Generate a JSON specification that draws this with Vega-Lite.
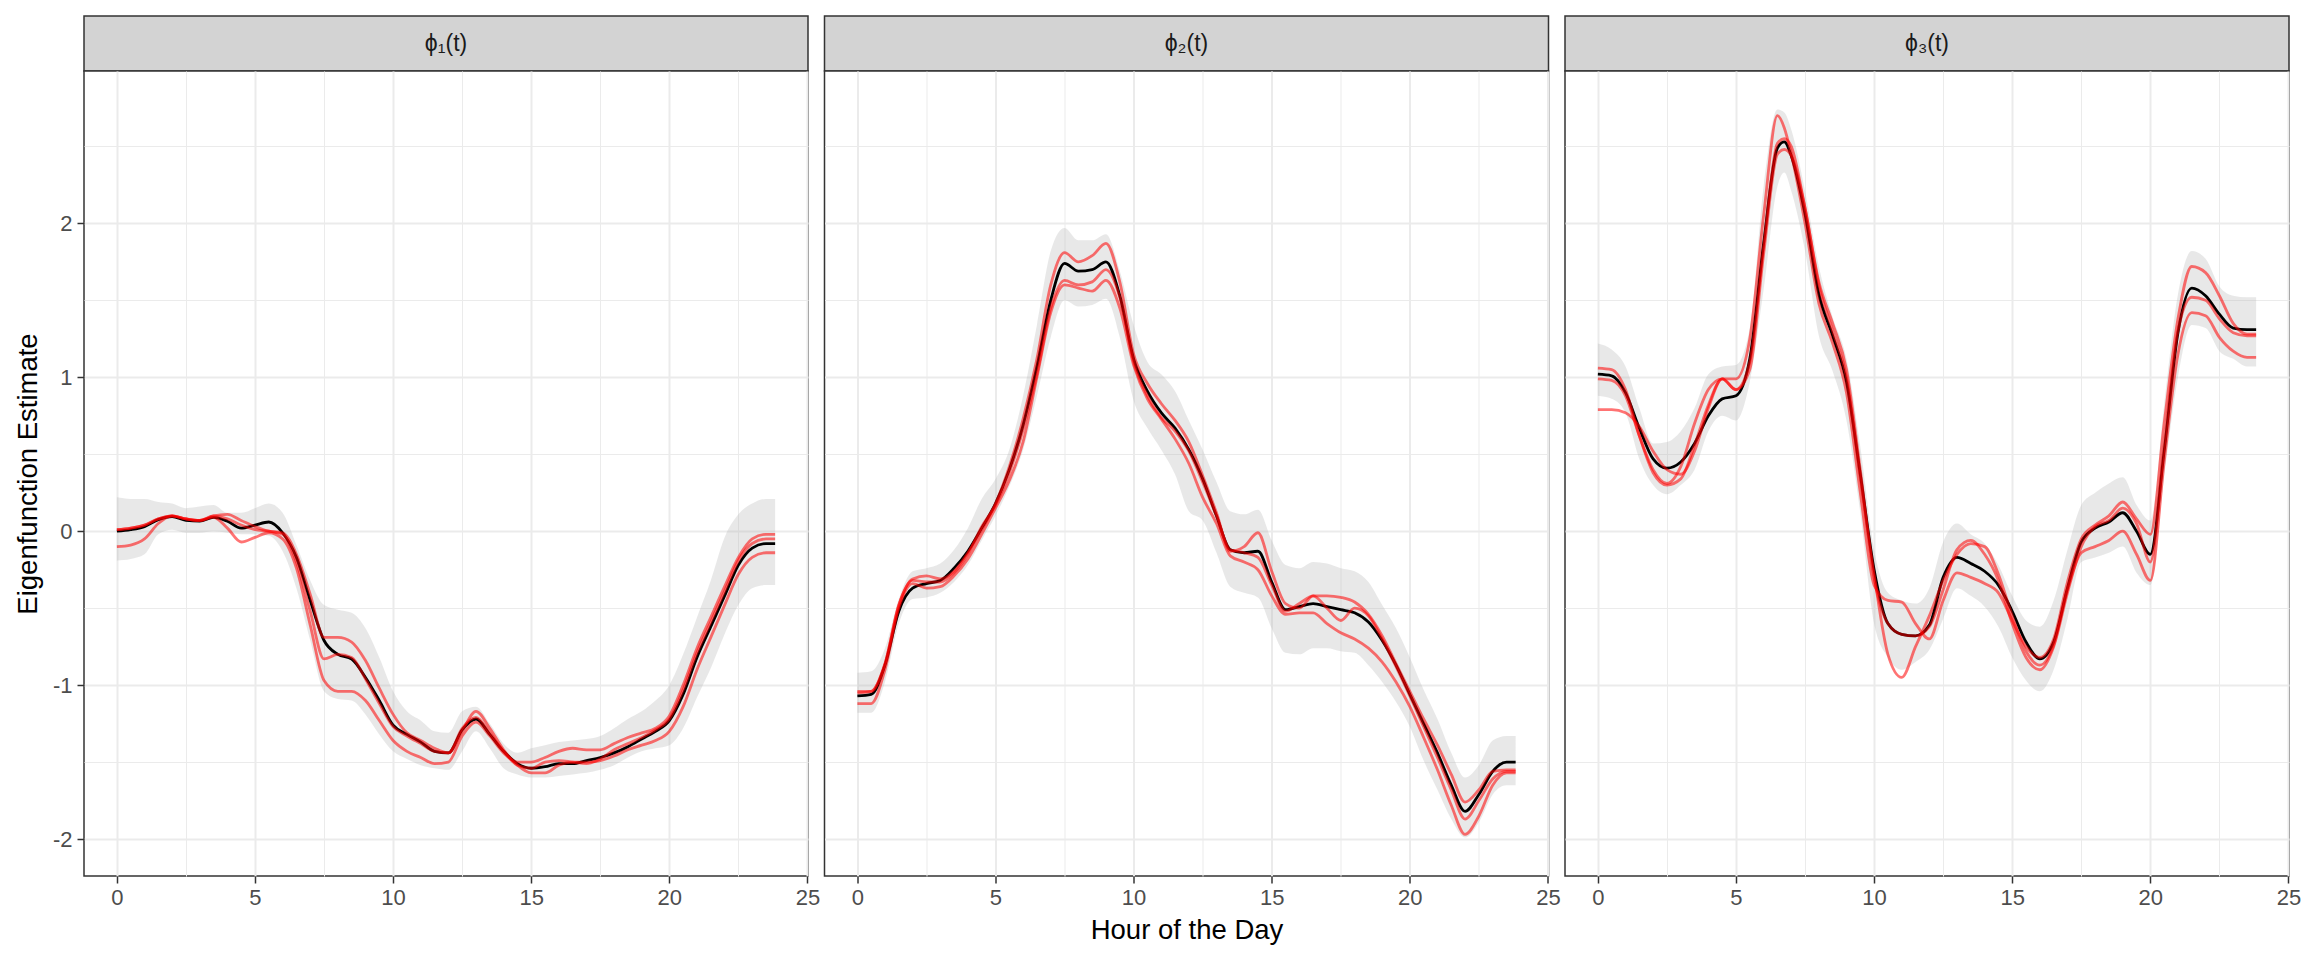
{
 "$schema": "https://vega.github.io/schema/vega-lite/v6.json",
 "padding": {"left": 13, "top": 15, "right": 5, "bottom": 5},
 "config": {"font": "Liberation Sans", "view": {"stroke": null}},
 "datasets": {
  "eig": [
   {"panel":1,"t":0,"est":0.00,"lo":-0.19,"hi":0.22,"r1":-0.10,"r2":0.01,"r3":0.01},
   {"panel":1,"t":0.5,"est":0.01,"lo":-0.18,"hi":0.21,"r1":-0.09,"r2":0.02,"r3":0.02},
   {"panel":1,"t":1,"est":0.03,"lo":-0.15,"hi":0.21,"r1":-0.05,"r2":0.04,"r3":0.04},
   {"panel":1,"t":1.5,"est":0.075,"lo":-0.02,"hi":0.19,"r1":0.05,"r2":0.08,"r3":0.08},
   {"panel":1,"t":2,"est":0.095,"lo":0.01,"hi":0.18,"r1":0.10,"r2":0.10,"r3":0.10},
   {"panel":1,"t":2.5,"est":0.07,"lo":-0.01,"hi":0.15,"r1":0.08,"r2":0.08,"r3":0.08},
   {"panel":1,"t":3,"est":0.065,"lo":-0.01,"hi":0.16,"r1":0.07,"r2":0.07,"r3":0.07},
   {"panel":1,"t":3.5,"est":0.09,"lo":0.0,"hi":0.17,"r1":0.09,"r2":0.10,"r3":0.10},
   {"panel":1,"t":4,"est":0.065,"lo":-0.01,"hi":0.12,"r1":0.02,"r2":0.11,"r3":0.08},
   {"panel":1,"t":4.5,"est":0.02,"lo":-0.02,"hi":0.12,"r1":-0.07,"r2":0.07,"r3":0.04},
   {"panel":1,"t":5,"est":0.04,"lo":-0.02,"hi":0.15,"r1":-0.04,"r2":0.03,"r3":0.01},
   {"panel":1,"t":5.5,"est":0.06,"lo":-0.03,"hi":0.18,"r1":-0.01,"r2":0.00,"r3":0.00},
   {"panel":1,"t":6,"est":-0.01,"lo":-0.13,"hi":0.12,"r1":-0.05,"r2":-0.01,"r3":-0.02},
   {"panel":1,"t":6.5,"est":-0.17,"lo":-0.37,"hi":-0.09,"r1":-0.24,"r2":-0.15,"r3":-0.20},
   {"panel":1,"t":7,"est":-0.45,"lo":-0.71,"hi":-0.32,"r1":-0.61,"r2":-0.41,"r3":-0.52},
   {"panel":1,"t":7.5,"est":-0.71,"lo":-1.04,"hi":-0.48,"r1":-0.97,"r2":-0.69,"r3":-0.83},
   {"panel":1,"t":8,"est":-0.80,"lo":-1.09,"hi":-0.51,"r1":-1.04,"r2":-0.69,"r3":-0.80},
   {"panel":1,"t":8.5,"est":-0.83,"lo":-1.10,"hi":-0.53,"r1":-1.04,"r2":-0.72,"r3":-0.82},
   {"panel":1,"t":9,"est":-0.95,"lo":-1.19,"hi":-0.63,"r1":-1.10,"r2":-0.84,"r3":-0.96},
   {"panel":1,"t":9.5,"est":-1.10,"lo":-1.32,"hi":-0.82,"r1":-1.23,"r2":-1.02,"r3":-1.12},
   {"panel":1,"t":10,"est":-1.26,"lo":-1.43,"hi":-1.04,"r1":-1.36,"r2":-1.19,"r3":-1.27},
   {"panel":1,"t":10.5,"est":-1.32,"lo":-1.48,"hi":-1.17,"r1":-1.43,"r2":-1.31,"r3":-1.33},
   {"panel":1,"t":11,"est":-1.37,"lo":-1.52,"hi":-1.23,"r1":-1.47,"r2":-1.36,"r3":-1.38},
   {"panel":1,"t":11.5,"est":-1.43,"lo":-1.54,"hi":-1.30,"r1":-1.51,"r2":-1.41,"r3":-1.43},
   {"panel":1,"t":12,"est":-1.44,"lo":-1.55,"hi":-1.31,"r1":-1.50,"r2":-1.44,"r3":-1.44},
   {"panel":1,"t":12.5,"est":-1.29,"lo":-1.43,"hi":-1.17,"r1":-1.33,"r2":-1.30,"r3":-1.28},
   {"panel":1,"t":13,"est":-1.22,"lo":-1.30,"hi":-1.14,"r1":-1.24,"r2":-1.17,"r3":-1.21},
   {"panel":1,"t":13.5,"est":-1.32,"lo":-1.41,"hi":-1.25,"r1":-1.33,"r2":-1.28,"r3":-1.31},
   {"panel":1,"t":14,"est":-1.43,"lo":-1.54,"hi":-1.38,"r1":-1.44,"r2":-1.42,"r3":-1.43},
   {"panel":1,"t":14.5,"est":-1.51,"lo":-1.58,"hi":-1.44,"r1":-1.50,"r2":-1.52,"r3":-1.52},
   {"panel":1,"t":15,"est":-1.54,"lo":-1.60,"hi":-1.41,"r1":-1.50,"r2":-1.57,"r3":-1.54},
   {"panel":1,"t":15.5,"est":-1.53,"lo":-1.60,"hi":-1.39,"r1":-1.47,"r2":-1.57,"r3":-1.50},
   {"panel":1,"t":16,"est":-1.51,"lo":-1.59,"hi":-1.37,"r1":-1.43,"r2":-1.52,"r3":-1.49},
   {"panel":1,"t":16.5,"est":-1.51,"lo":-1.58,"hi":-1.36,"r1":-1.41,"r2":-1.50,"r3":-1.50},
   {"panel":1,"t":17,"est":-1.49,"lo":-1.57,"hi":-1.35,"r1":-1.42,"r2":-1.50,"r3":-1.51},
   {"panel":1,"t":17.5,"est":-1.47,"lo":-1.55,"hi":-1.33,"r1":-1.42,"r2":-1.49,"r3":-1.48},
   {"panel":1,"t":18,"est":-1.44,"lo":-1.52,"hi":-1.28,"r1":-1.38,"r2":-1.46,"r3":-1.42},
   {"panel":1,"t":18.5,"est":-1.40,"lo":-1.47,"hi":-1.22,"r1":-1.34,"r2":-1.42,"r3":-1.38},
   {"panel":1,"t":19,"est":-1.35,"lo":-1.43,"hi":-1.17,"r1":-1.31,"r2":-1.39,"r3":-1.34},
   {"panel":1,"t":19.5,"est":-1.30,"lo":-1.41,"hi":-1.10,"r1":-1.28,"r2":-1.36,"r3":-1.29},
   {"panel":1,"t":20,"est":-1.23,"lo":-1.39,"hi":-1.00,"r1":-1.20,"r2":-1.30,"r3":-1.22},
   {"panel":1,"t":20.5,"est":-1.06,"lo":-1.28,"hi":-0.80,"r1":-1.00,"r2":-1.14,"r3":-1.03},
   {"panel":1,"t":21,"est":-0.82,"lo":-1.08,"hi":-0.56,"r1":-0.76,"r2":-0.90,"r3":-0.79},
   {"panel":1,"t":21.5,"est":-0.62,"lo":-0.89,"hi":-0.32,"r1":-0.56,"r2":-0.69,"r3":-0.59},
   {"panel":1,"t":22,"est":-0.42,"lo":-0.67,"hi":-0.04,"r1":-0.36,"r2":-0.48,"r3":-0.39},
   {"panel":1,"t":22.5,"est":-0.22,"lo":-0.48,"hi":0.11,"r1":-0.17,"r2":-0.28,"r3":-0.19},
   {"panel":1,"t":23,"est":-0.11,"lo":-0.37,"hi":0.18,"r1":-0.05,"r2":-0.17,"r3":-0.08},
   {"panel":1,"t":23.5,"est":-0.08,"lo":-0.35,"hi":0.21,"r1":-0.02,"r2":-0.14,"r3":-0.05},
   {"panel":1,"t":23.83,"est":-0.08,"lo":-0.35,"hi":0.21,"r1":-0.02,"r2":-0.14,"r3":-0.05},

   {"panel":2,"t":0,"est":-1.07,"lo":-1.18,"hi":-0.92,"r1":-1.04,"r2":-1.12,"r3":-1.05},
   {"panel":2,"t":0.5,"est":-1.06,"lo":-1.18,"hi":-0.91,"r1":-1.04,"r2":-1.12,"r3":-1.04},
   {"panel":2,"t":1,"est":-0.87,"lo":-0.98,"hi":-0.76,"r1":-0.86,"r2":-0.90,"r3":-0.86},
   {"panel":2,"t":1.5,"est":-0.52,"lo":-0.60,"hi":-0.44,"r1":-0.48,"r2":-0.50,"r3":-0.48},
   {"panel":2,"t":2,"est":-0.37,"lo":-0.44,"hi":-0.26,"r1":-0.31,"r2":-0.34,"r3":-0.32},
   {"panel":2,"t":2.5,"est":-0.34,"lo":-0.43,"hi":-0.24,"r1":-0.29,"r2":-0.37,"r3":-0.33},
   {"panel":2,"t":3,"est":-0.32,"lo":-0.40,"hi":-0.21,"r1":-0.31,"r2":-0.36,"r3":-0.33},
   {"panel":2,"t":3.5,"est":-0.24,"lo":-0.33,"hi":-0.12,"r1":-0.26,"r2":-0.29,"r3":-0.27},
   {"panel":2,"t":4,"est":-0.13,"lo":-0.22,"hi":0.02,"r1":-0.14,"r2":-0.18,"r3":-0.15},
   {"panel":2,"t":4.5,"est":0.02,"lo":-0.06,"hi":0.21,"r1":0.01,"r2":-0.02,"r3":0.03},
   {"panel":2,"t":5,"est":0.18,"lo":0.10,"hi":0.34,"r1":0.18,"r2":0.15,"r3":0.17},
   {"panel":2,"t":5.5,"est":0.40,"lo":0.29,"hi":0.53,"r1":0.42,"r2":0.33,"r3":0.38},
   {"panel":2,"t":6,"est":0.69,"lo":0.53,"hi":0.88,"r1":0.73,"r2":0.58,"r3":0.66},
   {"panel":2,"t":6.5,"est":1.07,"lo":0.88,"hi":1.34,"r1":1.12,"r2":1.00,"r3":1.02},
   {"panel":2,"t":7,"est":1.50,"lo":1.26,"hi":1.82,"r1":1.60,"r2":1.42,"r3":1.45},
   {"panel":2,"t":7.5,"est":1.74,"lo":1.50,"hi":1.97,"r1":1.81,"r2":1.60,"r3":1.63},
   {"panel":2,"t":8,"est":1.69,"lo":1.46,"hi":1.89,"r1":1.75,"r2":1.58,"r3":1.60},
   {"panel":2,"t":8.5,"est":1.70,"lo":1.47,"hi":1.89,"r1":1.79,"r2":1.56,"r3":1.62},
   {"panel":2,"t":9,"est":1.75,"lo":1.51,"hi":1.93,"r1":1.87,"r2":1.63,"r3":1.70},
   {"panel":2,"t":9.5,"est":1.53,"lo":1.26,"hi":1.69,"r1":1.62,"r2":1.45,"r3":1.52},
   {"panel":2,"t":10,"est":1.12,"lo":0.85,"hi":1.34,"r1":1.15,"r2":1.08,"r3":1.10},
   {"panel":2,"t":10.5,"est":0.91,"lo":0.67,"hi":1.10,"r1":0.96,"r2":0.86,"r3":0.88},
   {"panel":2,"t":11,"est":0.77,"lo":0.53,"hi":1.02,"r1":0.83,"r2":0.73,"r3":0.74},
   {"panel":2,"t":11.5,"est":0.67,"lo":0.37,"hi":0.91,"r1":0.72,"r2":0.60,"r3":0.65},
   {"panel":2,"t":12,"est":0.53,"lo":0.13,"hi":0.72,"r1":0.58,"r2":0.44,"r3":0.52},
   {"panel":2,"t":12.5,"est":0.34,"lo":0.07,"hi":0.53,"r1":0.36,"r2":0.22,"r3":0.32},
   {"panel":2,"t":13,"est":0.10,"lo":-0.14,"hi":0.32,"r1":0.12,"r2":0.05,"r3":0.10},
   {"panel":2,"t":13.5,"est":-0.12,"lo":-0.36,"hi":0.13,"r1":-0.13,"r2":-0.16,"r3":-0.12},
   {"panel":2,"t":14,"est":-0.14,"lo":-0.40,"hi":0.11,"r1":-0.10,"r2":-0.20,"r3":-0.14},
   {"panel":2,"t":14.5,"est":-0.13,"lo":-0.43,"hi":0.14,"r1":-0.01,"r2":-0.25,"r3":-0.17},
   {"panel":2,"t":15,"est":-0.33,"lo":-0.63,"hi":-0.06,"r1":-0.26,"r2":-0.42,"r3":-0.35},
   {"panel":2,"t":15.5,"est":-0.51,"lo":-0.79,"hi":-0.22,"r1":-0.47,"r2":-0.54,"r3":-0.52},
   {"panel":2,"t":16,"est":-0.49,"lo":-0.80,"hi":-0.24,"r1":-0.50,"r2":-0.53,"r3":-0.47},
   {"panel":2,"t":16.5,"est":-0.47,"lo":-0.76,"hi":-0.20,"r1":-0.42,"r2":-0.53,"r3":-0.42},
   {"panel":2,"t":17,"est":-0.49,"lo":-0.76,"hi":-0.21,"r1":-0.42,"r2":-0.60,"r3":-0.50},
   {"panel":2,"t":17.5,"est":-0.51,"lo":-0.78,"hi":-0.24,"r1":-0.43,"r2":-0.66,"r3":-0.58},
   {"panel":2,"t":18,"est":-0.53,"lo":-0.79,"hi":-0.26,"r1":-0.46,"r2":-0.70,"r3":-0.50},
   {"panel":2,"t":18.5,"est":-0.59,"lo":-0.87,"hi":-0.33,"r1":-0.54,"r2":-0.76,"r3":-0.55},
   {"panel":2,"t":19,"est":-0.71,"lo":-0.98,"hi":-0.48,"r1":-0.68,"r2":-0.85,"r3":-0.70},
   {"panel":2,"t":19.5,"est":-0.87,"lo":-1.11,"hi":-0.63,"r1":-0.86,"r2":-0.98,"r3":-0.88},
   {"panel":2,"t":20,"est":-1.06,"lo":-1.27,"hi":-0.82,"r1":-1.04,"r2":-1.14,"r3":-1.07},
   {"panel":2,"t":20.5,"est":-1.25,"lo":-1.49,"hi":-1.03,"r1":-1.22,"r2":-1.34,"r3":-1.27},
   {"panel":2,"t":21,"est":-1.44,"lo":-1.68,"hi":-1.22,"r1":-1.39,"r2":-1.55,"r3":-1.47},
   {"panel":2,"t":21.5,"est":-1.65,"lo":-1.87,"hi":-1.44,"r1":-1.58,"r2":-1.78,"r3":-1.68},
   {"panel":2,"t":22,"est":-1.82,"lo":-1.99,"hi":-1.60,"r1":-1.76,"r2":-1.97,"r3":-1.87},
   {"panel":2,"t":22.5,"est":-1.71,"lo":-1.89,"hi":-1.52,"r1":-1.68,"r2":-1.85,"r3":-1.75},
   {"panel":2,"t":23,"est":-1.56,"lo":-1.71,"hi":-1.36,"r1":-1.56,"r2":-1.65,"r3":-1.61},
   {"panel":2,"t":23.5,"est":-1.50,"lo":-1.65,"hi":-1.33,"r1":-1.55,"r2":-1.57,"r3":-1.56},
   {"panel":2,"t":23.83,"est":-1.50,"lo":-1.65,"hi":-1.33,"r1":-1.55,"r2":-1.57,"r3":-1.56},

   {"panel":3,"t":0,"est":1.02,"lo":0.88,"hi":1.22,"r1":0.79,"r2":1.06,"r3":0.99},
   {"panel":3,"t":0.5,"est":1.01,"lo":0.86,"hi":1.18,"r1":0.79,"r2":1.05,"r3":0.98},
   {"panel":3,"t":1,"est":0.90,"lo":0.77,"hi":1.07,"r1":0.77,"r2":0.92,"r3":0.88},
   {"panel":3,"t":1.5,"est":0.67,"lo":0.47,"hi":0.80,"r1":0.68,"r2":0.62,"r3":0.62},
   {"panel":3,"t":2,"est":0.47,"lo":0.30,"hi":0.57,"r1":0.52,"r2":0.38,"r3":0.40},
   {"panel":3,"t":2.5,"est":0.41,"lo":0.24,"hi":0.58,"r1":0.40,"r2":0.30,"r3":0.31},
   {"panel":3,"t":3,"est":0.45,"lo":0.30,"hi":0.65,"r1":0.37,"r2":0.34,"r3":0.42},
   {"panel":3,"t":3.5,"est":0.57,"lo":0.40,"hi":0.80,"r1":0.52,"r2":0.56,"r3":0.70},
   {"panel":3,"t":4,"est":0.75,"lo":0.65,"hi":1.02,"r1":0.80,"r2":0.82,"r3":0.92},
   {"panel":3,"t":4.5,"est":0.86,"lo":0.75,"hi":1.07,"r1":0.99,"r2":0.99,"r3":0.99},
   {"panel":3,"t":5,"est":0.88,"lo":0.72,"hi":1.08,"r1":0.99,"r2":0.92,"r3":0.92},
   {"panel":3,"t":5.5,"est":1.12,"lo":0.97,"hi":1.32,"r1":1.25,"r2":1.05,"r3":1.10},
   {"panel":3,"t":6,"est":1.87,"lo":1.57,"hi":2.24,"r1":2.05,"r2":1.80,"r3":1.85},
   {"panel":3,"t":6.5,"est":2.49,"lo":2.24,"hi":2.74,"r1":2.70,"r2":2.45,"r3":2.52},
   {"panel":3,"t":6.75,"est":2.53,"lo":2.33,"hi":2.72,"r1":2.62,"r2":2.48,"r3":2.55},
   {"panel":3,"t":7,"est":2.44,"lo":2.21,"hi":2.61,"r1":2.45,"r2":2.44,"r3":2.50},
   {"panel":3,"t":7.5,"est":2.06,"lo":1.82,"hi":2.21,"r1":2.00,"r2":2.10,"r3":2.10},
   {"panel":3,"t":8,"est":1.54,"lo":1.27,"hi":1.72,"r1":1.48,"r2":1.60,"r3":1.62},
   {"panel":3,"t":8.5,"est":1.27,"lo":1.04,"hi":1.39,"r1":1.22,"r2":1.30,"r3":1.35},
   {"panel":3,"t":9,"est":0.97,"lo":0.72,"hi":1.12,"r1":0.90,"r2":1.00,"r3":1.05},
   {"panel":3,"t":9.5,"est":0.37,"lo":0.12,"hi":0.55,"r1":0.25,"r2":0.35,"r3":0.40},
   {"panel":3,"t":10,"est":-0.25,"lo":-0.60,"hi":-0.12,"r1":-0.35,"r2":-0.28,"r3":-0.30},
   {"panel":3,"t":10.5,"est":-0.60,"lo":-0.82,"hi":-0.40,"r1":-0.45,"r2":-0.80,"r3":-0.60},
   {"panel":3,"t":11,"est":-0.67,"lo":-0.90,"hi":-0.45,"r1":-0.46,"r2":-0.95,"r3":-0.67},
   {"panel":3,"t":11.5,"est":-0.68,"lo":-0.85,"hi":-0.47,"r1":-0.60,"r2":-0.75,"r3":-0.68},
   {"panel":3,"t":12,"est":-0.61,"lo":-0.77,"hi":-0.37,"r1":-0.70,"r2":-0.55,"r3":-0.62},
   {"panel":3,"t":12.5,"est":-0.30,"lo":-0.57,"hi":-0.07,"r1":-0.45,"r2":-0.32,"r3":-0.38},
   {"panel":3,"t":13,"est":-0.17,"lo":-0.37,"hi":0.05,"r1":-0.27,"r2":-0.15,"r3":-0.12},
   {"panel":3,"t":13.5,"est":-0.21,"lo":-0.42,"hi":-0.02,"r1":-0.30,"r2":-0.08,"r3":-0.06},
   {"panel":3,"t":14,"est":-0.26,"lo":-0.49,"hi":-0.08,"r1":-0.34,"r2":-0.10,"r3":-0.15},
   {"panel":3,"t":14.5,"est":-0.35,"lo":-0.62,"hi":-0.22,"r1":-0.40,"r2":-0.28,"r3":-0.32},
   {"panel":3,"t":15,"est":-0.52,"lo":-0.82,"hi":-0.42,"r1":-0.58,"r2":-0.55,"r3":-0.60},
   {"panel":3,"t":15.5,"est":-0.72,"lo":-0.97,"hi":-0.58,"r1":-0.75,"r2":-0.78,"r3":-0.82},
   {"panel":3,"t":16,"est":-0.83,"lo":-1.04,"hi":-0.62,"r1":-0.82,"r2":-0.87,"r3":-0.90},
   {"panel":3,"t":16.5,"est":-0.72,"lo":-0.90,"hi":-0.45,"r1":-0.70,"r2":-0.74,"r3":-0.75},
   {"panel":3,"t":17,"est":-0.37,"lo":-0.57,"hi":-0.12,"r1":-0.33,"r2":-0.38,"r3":-0.40},
   {"panel":3,"t":17.5,"est":-0.07,"lo":-0.20,"hi":0.17,"r1":-0.05,"r2":-0.14,"r3":-0.10},
   {"panel":3,"t":18,"est":0.02,"lo":-0.17,"hi":0.25,"r1":0.04,"r2":-0.10,"r3":0.03},
   {"panel":3,"t":18.5,"est":0.06,"lo":-0.14,"hi":0.31,"r1":0.10,"r2":-0.06,"r3":0.07},
   {"panel":3,"t":19,"est":0.12,"lo":-0.10,"hi":0.35,"r1":0.19,"r2":0.00,"r3":0.15},
   {"panel":3,"t":19.5,"est":0.00,"lo":-0.27,"hi":0.17,"r1":0.08,"r2":-0.15,"r3":0.05},
   {"panel":3,"t":20,"est":-0.15,"lo":-0.35,"hi":0.07,"r1":-0.02,"r2":-0.32,"r3":-0.20},
   {"panel":3,"t":20.5,"est":0.52,"lo":0.35,"hi":0.82,"r1":0.70,"r2":0.45,"r3":0.55},
   {"panel":3,"t":21,"est":1.29,"lo":1.00,"hi":1.54,"r1":1.38,"r2":1.15,"r3":1.30},
   {"panel":3,"t":21.5,"est":1.58,"lo":1.34,"hi":1.82,"r1":1.72,"r2":1.42,"r3":1.52},
   {"panel":3,"t":22,"est":1.53,"lo":1.32,"hi":1.77,"r1":1.68,"r2":1.40,"r3":1.50},
   {"panel":3,"t":22.5,"est":1.41,"lo":1.17,"hi":1.59,"r1":1.53,"r2":1.26,"r3":1.38},
   {"panel":3,"t":23,"est":1.32,"lo":1.12,"hi":1.53,"r1":1.35,"r2":1.17,"r3":1.29},
   {"panel":3,"t":23.5,"est":1.31,"lo":1.07,"hi":1.52,"r1":1.28,"r2":1.13,"r3":1.27},
   {"panel":3,"t":23.83,"est":1.31,"lo":1.07,"hi":1.52,"r1":1.28,"r2":1.13,"r3":1.27}
  ]
 },
 "columns": 3,
 "spacing": {"row": 0, "column": 16.5},
 "bounds": "flush",
 "concat": [
  {"width": 724, "height": 55, "data": {"values": [{"lab": "ϕ₁(t)"}]},
   "view": {"fill": "#D3D3D3", "stroke": "#333333", "strokeWidth": 1.5},
   "mark": {"type": "text", "fontSize": 23, "color": "#1A1A1A", "align": "center", "baseline": "middle"},
   "encoding": {"text": {"field": "lab"}}},
  {"width": 724, "height": 55, "data": {"values": [{"lab": "ϕ₂(t)"}]},
   "view": {"fill": "#D3D3D3", "stroke": "#333333", "strokeWidth": 1.5},
   "mark": {"type": "text", "fontSize": 23, "color": "#1A1A1A", "align": "center", "baseline": "middle"},
   "encoding": {"text": {"field": "lab"}}},
  {"width": 724, "height": 55, "data": {"values": [{"lab": "ϕ₃(t)"}]},
   "view": {"fill": "#D3D3D3", "stroke": "#333333", "strokeWidth": 1.5},
   "mark": {"type": "text", "fontSize": 23, "color": "#1A1A1A", "align": "center", "baseline": "middle"},
   "encoding": {"text": {"field": "lab"}}},

  {"width": 724, "height": 805, "data": {"name": "eig"},
   "view": {"fill": "white", "stroke": "#333333", "strokeWidth": 1.5},
   "transform": [{"filter": "datum.panel == 1"}],
   "resolve": {"axis": {"x": "independent", "y": "independent"}},
   "layer": [
    {"mark": {"type": "area", "interpolate": "monotone", "fill": "#B3B3B3", "opacity": 0.3},
     "encoding": {
      "x": {"field": "t", "type": "quantitative", "scale": {"domain": [-1.19, 25.02], "nice": false, "zero": false},
            "axis": {"values": [2.5, 7.5, 12.5, 17.5, 22.5], "grid": true, "gridColor": "#EBEBEB", "gridWidth": 1, "domain": false, "ticks": false, "labels": false, "title": null, "orient": "bottom"}},
      "y": {"field": "lo", "type": "quantitative", "scale": {"domain": [-2.24, 2.99], "nice": false, "zero": false},
            "axis": {"values": [-1.5, -0.5, 0.5, 1.5, 2.5], "grid": true, "gridColor": "#EBEBEB", "gridWidth": 1, "domain": false, "ticks": false, "labels": false, "title": null, "orient": "left"}},
      "y2": {"field": "hi"}}},
    {"mark": {"type": "line", "interpolate": "monotone", "color": "black", "strokeWidth": 2.8},
     "encoding": {
      "x": {"field": "t", "type": "quantitative", "scale": {"domain": [-1.19, 25.02], "nice": false, "zero": false},
            "axis": {"values": [0, 5, 10, 15, 20, 25], "grid": true, "gridColor": "#EBEBEB", "gridWidth": 2, "domain": false, "ticks": true, "tickSize": 7, "tickWidth": 1.5, "tickColor": "#333333", "labelFontSize": 22, "labelColor": "#4D4D4D", "labelPadding": 4, "labelFlush": false, "labelOverlap": false, "title": null, "orient": "bottom"}},
      "y": {"field": "est", "type": "quantitative", "scale": {"domain": [-2.24, 2.99], "nice": false, "zero": false},
            "axis": {"values": [-2, -1, 0, 1, 2], "labelExpr": "'' + datum.value", "grid": true, "gridColor": "#EBEBEB", "gridWidth": 2, "domain": false, "ticks": true, "tickSize": 7, "tickWidth": 1.5, "tickColor": "#333333", "labelFontSize": 22, "labelColor": "#4D4D4D", "labelPadding": 5, "labelFlush": false, "labelOverlap": false, "title": "Eigenfunction Estimate", "titleFontSize": 27.5, "titleFontWeight": "normal", "titleColor": "black", "titlePadding": 10, "orient": "left"}}}},
    {"transform": [{"fold": ["r1", "r2", "r3"], "as": ["run", "val"]}],
     "mark": {"type": "line", "interpolate": "monotone", "color": "red", "opacity": 0.55, "strokeWidth": 2.8},
     "encoding": {
      "x": {"field": "t", "type": "quantitative", "scale": {"domain": [-1.19, 25.02], "nice": false, "zero": false}, "axis": null},
      "y": {"field": "val", "type": "quantitative", "scale": {"domain": [-2.24, 2.99], "nice": false, "zero": false}, "axis": null},
      "detail": {"field": "run"}}}
   ]},

  {"width": 724, "height": 805, "data": {"name": "eig"},
   "view": {"fill": "white", "stroke": "#333333", "strokeWidth": 1.5},
   "transform": [{"filter": "datum.panel == 2"}],
   "resolve": {"axis": {"x": "independent", "y": "independent"}},
   "layer": [
    {"mark": {"type": "area", "interpolate": "monotone", "fill": "#B3B3B3", "opacity": 0.3},
     "encoding": {
      "x": {"field": "t", "type": "quantitative", "scale": {"domain": [-1.19, 25.02], "nice": false, "zero": false},
            "axis": {"values": [2.5, 7.5, 12.5, 17.5, 22.5], "grid": true, "gridColor": "#EBEBEB", "gridWidth": 1, "domain": false, "ticks": false, "labels": false, "title": null, "orient": "bottom"}},
      "y": {"field": "lo", "type": "quantitative", "scale": {"domain": [-2.24, 2.99], "nice": false, "zero": false},
            "axis": {"values": [-1.5, -0.5, 0.5, 1.5, 2.5], "grid": true, "gridColor": "#EBEBEB", "gridWidth": 1, "domain": false, "ticks": false, "labels": false, "title": null, "orient": "left"}},
      "y2": {"field": "hi"}}},
    {"mark": {"type": "line", "interpolate": "monotone", "color": "black", "strokeWidth": 2.8},
     "encoding": {
      "x": {"field": "t", "type": "quantitative", "scale": {"domain": [-1.19, 25.02], "nice": false, "zero": false},
            "axis": {"values": [0, 5, 10, 15, 20, 25], "grid": true, "gridColor": "#EBEBEB", "gridWidth": 2, "domain": false, "ticks": true, "tickSize": 7, "tickWidth": 1.5, "tickColor": "#333333", "labelFontSize": 22, "labelColor": "#4D4D4D", "labelPadding": 4, "labelFlush": false, "labelOverlap": false, "title": "Hour of the Day", "titleFontSize": 27.5, "titleFontWeight": "normal", "titleColor": "black", "titlePadding": 8, "orient": "bottom"}},
      "y": {"field": "est", "type": "quantitative", "scale": {"domain": [-2.24, 2.99], "nice": false, "zero": false},
            "axis": {"values": [-2, -1, 0, 1, 2], "grid": true, "gridColor": "#EBEBEB", "gridWidth": 2, "domain": false, "ticks": false, "labels": false, "title": null, "orient": "left"}}}},
    {"transform": [{"fold": ["r1", "r2", "r3"], "as": ["run", "val"]}],
     "mark": {"type": "line", "interpolate": "monotone", "color": "red", "opacity": 0.55, "strokeWidth": 2.8},
     "encoding": {
      "x": {"field": "t", "type": "quantitative", "scale": {"domain": [-1.19, 25.02], "nice": false, "zero": false}, "axis": null},
      "y": {"field": "val", "type": "quantitative", "scale": {"domain": [-2.24, 2.99], "nice": false, "zero": false}, "axis": null},
      "detail": {"field": "run"}}}
   ]},

  {"width": 724, "height": 805, "data": {"name": "eig"},
   "view": {"fill": "white", "stroke": "#333333", "strokeWidth": 1.5},
   "transform": [{"filter": "datum.panel == 3"}],
   "resolve": {"axis": {"x": "independent", "y": "independent"}},
   "layer": [
    {"mark": {"type": "area", "interpolate": "monotone", "fill": "#B3B3B3", "opacity": 0.3},
     "encoding": {
      "x": {"field": "t", "type": "quantitative", "scale": {"domain": [-1.19, 25.02], "nice": false, "zero": false},
            "axis": {"values": [2.5, 7.5, 12.5, 17.5, 22.5], "grid": true, "gridColor": "#EBEBEB", "gridWidth": 1, "domain": false, "ticks": false, "labels": false, "title": null, "orient": "bottom"}},
      "y": {"field": "lo", "type": "quantitative", "scale": {"domain": [-2.24, 2.99], "nice": false, "zero": false},
            "axis": {"values": [-1.5, -0.5, 0.5, 1.5, 2.5], "grid": true, "gridColor": "#EBEBEB", "gridWidth": 1, "domain": false, "ticks": false, "labels": false, "title": null, "orient": "left"}},
      "y2": {"field": "hi"}}},
    {"mark": {"type": "line", "interpolate": "monotone", "color": "black", "strokeWidth": 2.8},
     "encoding": {
      "x": {"field": "t", "type": "quantitative", "scale": {"domain": [-1.19, 25.02], "nice": false, "zero": false},
            "axis": {"values": [0, 5, 10, 15, 20, 25], "grid": true, "gridColor": "#EBEBEB", "gridWidth": 2, "domain": false, "ticks": true, "tickSize": 7, "tickWidth": 1.5, "tickColor": "#333333", "labelFontSize": 22, "labelColor": "#4D4D4D", "labelPadding": 4, "labelFlush": false, "labelOverlap": false, "title": null, "orient": "bottom"}},
      "y": {"field": "est", "type": "quantitative", "scale": {"domain": [-2.24, 2.99], "nice": false, "zero": false},
            "axis": {"values": [-2, -1, 0, 1, 2], "grid": true, "gridColor": "#EBEBEB", "gridWidth": 2, "domain": false, "ticks": false, "labels": false, "title": null, "orient": "left"}}}},
    {"transform": [{"fold": ["r1", "r2", "r3"], "as": ["run", "val"]}],
     "mark": {"type": "line", "interpolate": "monotone", "color": "red", "opacity": 0.55, "strokeWidth": 2.8},
     "encoding": {
      "x": {"field": "t", "type": "quantitative", "scale": {"domain": [-1.19, 25.02], "nice": false, "zero": false}, "axis": null},
      "y": {"field": "val", "type": "quantitative", "scale": {"domain": [-2.24, 2.99], "nice": false, "zero": false}, "axis": null},
      "detail": {"field": "run"}}}
   ]}
 ]
}
